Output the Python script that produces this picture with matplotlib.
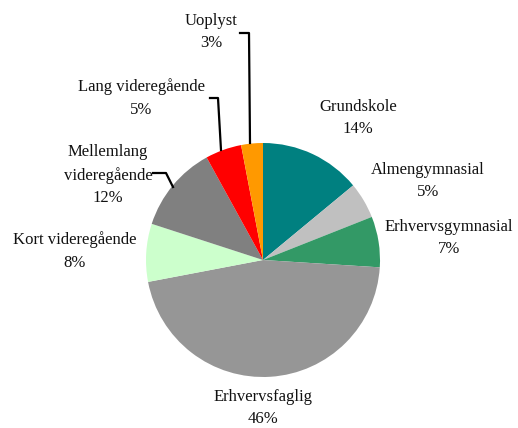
import matplotlib.pyplot as plt

plt.rcParams['font.family'] = ['Liberation Serif', 'DejaVu Serif']

# data
labels = ['Grundskole', 'Almengymnasial', 'Erhvervsgymnasial', 'Erhvervsfaglig',
          'Kort videregående', 'Mellemlang\nvideregående', 'Lang videregående', 'Uoplyst']
shares = [14, 5, 7, 46, 8, 12, 5, 3]
colors = ['#008080', '#C0C0C0', '#339966', '#969696', '#CCFFCC', '#808080', '#FF0000', '#FF9900']

W, H = 518, 428
fig = plt.figure(figsize=(W / 100, H / 100), dpi=100)
ax = fig.add_axes([0, 0, 1, 1])
ax.set_xlim(0, W)
ax.set_ylim(0, H)
ax.set_aspect('equal')
ax.axis('off')

cx, cy, r = 263, H - 260, 117
ax.pie(shares, colors=colors, startangle=90, counterclock=False,
       center=(cx, cy), radius=r, frame=True)
ax.set_xlim(0, W)
ax.set_ylim(0, H)
ax.axis('off')

# label positions (pixel coords, y from top)
label_pos = [(358, 118), (428, 181), (449, 238), (263, 408),
             (75, 251), (108, 175), (141, 98), (211, 32)]
for lab, val, (x, y) in zip(labels, shares, label_pos):
    ax.text(x, H - y, f'{lab}\n{val}%', ha='center', va='center',
            fontsize=12, linespacing=1.55, color='#111111')

# leader lines
leaders = [
    [(240, 33), (249, 33), (250, 143)],
    [(210, 98), (218, 98), (221, 150)],
    [(153, 173), (166, 173), (173, 187)],
]
for pts in leaders:
    xs = [p[0] for p in pts]
    ys = [H - p[1] for p in pts]
    ax.plot(xs, ys, color='black', lw=1.6)

fig.savefig('out.png', dpi=100)
